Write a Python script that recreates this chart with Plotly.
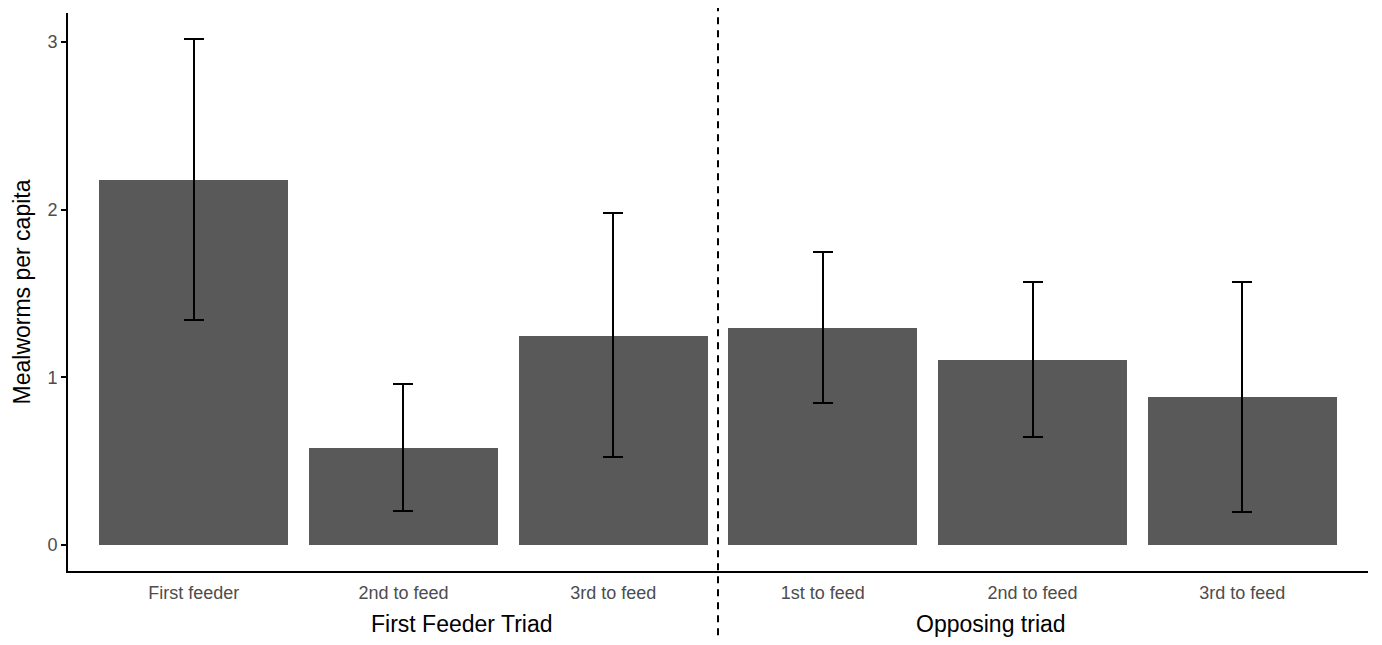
import plotly.graph_objects as go

# Mealworms per capita by feeding order, with error-bar bounds
positions = [0, 1, 2, 3, 4, 5]
order_labels = ["First feeder", "2nd to feed", "3rd to feed",
                "1st to feed", "2nd to feed", "3rd to feed"]
means = [2.177, 0.579, 1.247, 1.294, 1.103, 0.883]
upper = [3.018, 0.960, 1.980, 1.748, 1.569, 1.569]
lower = [1.342, 0.203, 0.525, 0.847, 0.644, 0.197]

group_names = ["First Feeder Triad", "Opposing triad"]
group_label_x = [1.281, 3.80]
divider_x = 2.5

y_ticks = [0, 1, 2, 3]

err_plus = [u - m for u, m in zip(upper, means)]
err_minus = [m - l for m, l in zip(means, lower)]

FONT = "Liberation Sans, Arial, sans-serif"

fig = go.Figure()
fig.add_trace(go.Bar(
    x=positions,
    y=means,
    width=0.9,
    marker=dict(color="#595959", line=dict(width=0)),
    error_y=dict(type="data", symmetric=False, array=err_plus,
                 arrayminus=err_minus, color="black", thickness=2, width=10),
    showlegend=False,
    hoverinfo="skip",
))

# dashed divider between the two triads, running past the plot area
fig.add_shape(type="line", xref="x", yref="paper",
              x0=divider_x, x1=divider_x, y0=-0.115, y1=1.009,
              line=dict(color="black", width=2, dash="7px,6px"))

for name, gx in zip(group_names, group_label_x):
    fig.add_annotation(text=name, x=gx, xref="x", y=-0.095, yref="paper",
                       yanchor="middle", xanchor="center", showarrow=False,
                       font=dict(family=FONT, size=23, color="black"))

fig.update_layout(
    width=1382, height=645,
    margin=dict(l=68, r=14, t=13, b=74),
    plot_bgcolor="white", paper_bgcolor="white",
    font=dict(family=FONT),
    bargap=0,
)
fig.update_xaxes(
    range=[-0.6, 5.6],
    tickvals=positions, ticktext=order_labels,
    showgrid=False, zeroline=False,
    showline=True, linecolor="black", linewidth=2,
    ticks="", ticklabelstandoff=4,
    tickfont=dict(family=FONT, size=18, color="#4d4d4d"),
)
fig.update_yaxes(
    range=[-0.155, 3.173],
    tickvals=y_ticks,
    showgrid=False, zeroline=False,
    showline=True, linecolor="black", linewidth=2,
    ticks="outside", ticklen=5, tickwidth=2, tickcolor="black",
    tickfont=dict(family=FONT, size=18, color="#4d4d4d"),
    title=dict(text="Mealworms per capita", standoff=10,
               font=dict(family=FONT, size=23, color="black")),
)

fig.write_html("out.html")
